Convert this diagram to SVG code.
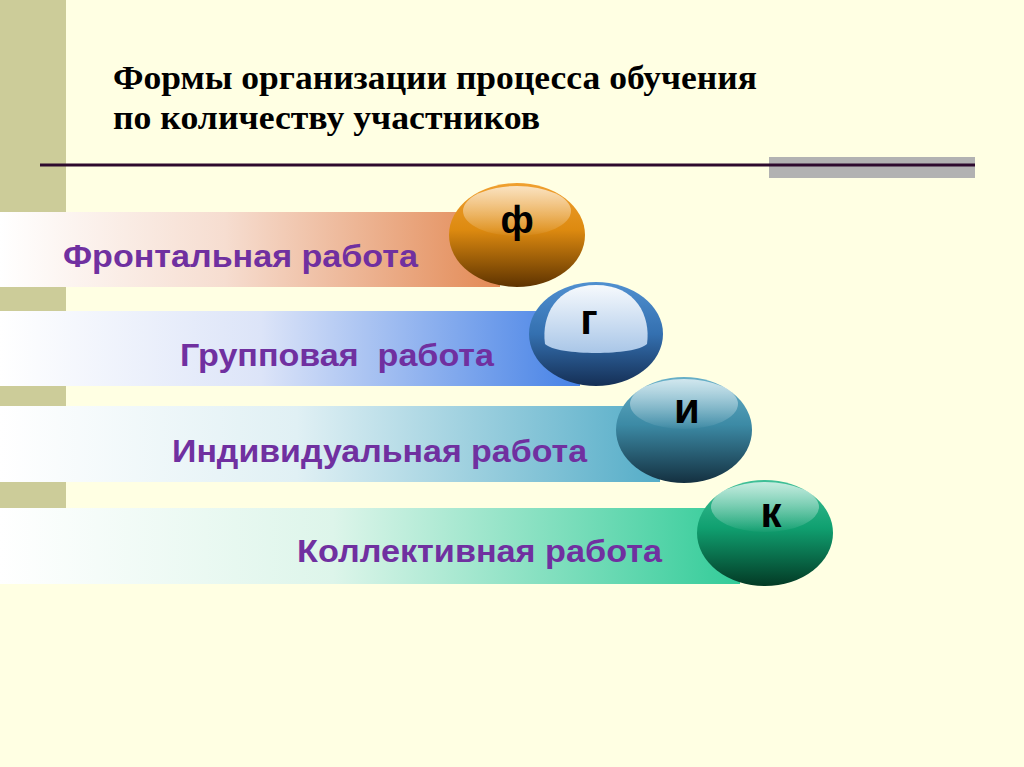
<svg xmlns="http://www.w3.org/2000/svg" width="1024" height="767" viewBox="0 0 1024 767">
<style>
.title{font-family:"Liberation Serif",serif;font-weight:bold;font-size:33px;fill:#000}
.lbl{font-family:"Liberation Sans",Arial,sans-serif;font-weight:bold;font-size:31px;fill:#7030A0}
.let{font-family:"Liberation Sans",Arial,sans-serif;font-weight:bold;font-size:42px;fill:#000;text-anchor:middle}
</style>
<defs>
<linearGradient id="b1" x1="0" y1="0" x2="1" y2="0"><stop offset="0" stop-color="#fff"/><stop offset="0.45" stop-color="#F6DDD0"/><stop offset="1" stop-color="#E38A55"/></linearGradient>
<linearGradient id="b2" x1="0" y1="0" x2="1" y2="0"><stop offset="0" stop-color="#fff"/><stop offset="0.45" stop-color="#DCE4F8"/><stop offset="1" stop-color="#4682E6"/></linearGradient>
<linearGradient id="b3" x1="0" y1="0" x2="1" y2="0"><stop offset="0" stop-color="#fff"/><stop offset="0.45" stop-color="#E0F0F4"/><stop offset="1" stop-color="#55ADC8"/></linearGradient>
<linearGradient id="b4" x1="0" y1="0" x2="1" y2="0"><stop offset="0" stop-color="#fff"/><stop offset="0.45" stop-color="#DDF5EA"/><stop offset="1" stop-color="#33CC99"/></linearGradient>
<linearGradient id="s1" x1="0" y1="0" x2="0" y2="1"><stop offset="0" stop-color="#F0A030"/><stop offset="0.45" stop-color="#DD8A10"/><stop offset="1" stop-color="#5E3300"/></linearGradient>
<linearGradient id="s2" x1="0" y1="0" x2="0" y2="1"><stop offset="0" stop-color="#5090D0"/><stop offset="0.5" stop-color="#3470B0"/><stop offset="1" stop-color="#152F55"/></linearGradient>
<linearGradient id="s3" x1="0" y1="0" x2="0" y2="1"><stop offset="0" stop-color="#68B0C8"/><stop offset="0.45" stop-color="#3C8AA5"/><stop offset="1" stop-color="#143040"/></linearGradient>
<linearGradient id="s4" x1="0" y1="0" x2="0" y2="1"><stop offset="0" stop-color="#40C098"/><stop offset="0.45" stop-color="#10A070"/><stop offset="1" stop-color="#033A25"/></linearGradient>
<linearGradient id="hl" x1="0" y1="0" x2="0" y2="1"><stop offset="0" stop-color="#fff" stop-opacity="0.7"/><stop offset="1" stop-color="#fff" stop-opacity="0.03"/></linearGradient>
<linearGradient id="hl2" x1="0" y1="0" x2="0" y2="1"><stop offset="0" stop-color="#fff" stop-opacity="0.95"/><stop offset="1" stop-color="#B0CCEC" stop-opacity="0.95"/></linearGradient>
</defs>
<rect width="1024" height="767" fill="#FFFFE3"/>
<rect x="0" y="0" width="66" height="508" fill="#CCCC99"/>
<rect x="769" y="157" width="206" height="21" fill="#B2B2B2"/>
<line x1="40" y1="165" x2="975" y2="165" stroke="#2E0A2E" stroke-width="3"/>
<g id="title">
<text class="title" x="113" y="89" textLength="644" lengthAdjust="spacingAndGlyphs">Формы организации процесса обучения</text>
<text class="title" x="113" y="129" textLength="427" lengthAdjust="spacingAndGlyphs">по количеству участников</text>
</g>
<g id="connectors"></g>
<g id="node1">
<rect x="0" y="212" width="500" height="75" fill="url(#b1)"/>
<text class="lbl" x="63" y="267" textLength="355" lengthAdjust="spacingAndGlyphs">Фронтальная работа</text>
<ellipse cx="517" cy="235" rx="68" ry="52" fill="url(#s1)"/>
<ellipse cx="517" cy="211" rx="54" ry="25" fill="url(#hl)"/>
<text class="let" x="517" y="233" style="font-size:38px">ф</text>
</g>
<g id="node2">
<rect x="0" y="311" width="580" height="75" fill="url(#b2)"/>
<text class="lbl" x="180" y="366" textLength="314" lengthAdjust="spacingAndGlyphs" xml:space="preserve">Групповая  работа</text>
<ellipse cx="596" cy="334" rx="67" ry="52" fill="url(#s2)"/>
<path d="M545 344 C541 316 556 285 596 285 C636 285 651 316 647 344 C635 356 557 356 545 344 Z" fill="url(#hl2)"/>
<text class="let" x="589" y="334">г</text>
</g>
<g id="node3">
<rect x="0" y="406" width="660" height="76" fill="url(#b3)"/>
<text class="lbl" x="172" y="462" textLength="415" lengthAdjust="spacingAndGlyphs">Индивидуальная работа</text>
<ellipse cx="684" cy="430" rx="68" ry="53" fill="url(#s3)"/>
<ellipse cx="684" cy="404" rx="54" ry="25" fill="url(#hl)"/>
<text class="let" x="687" y="423">и</text>
</g>
<g id="node4">
<rect x="0" y="508" width="740" height="76" fill="url(#b4)"/>
<text class="lbl" x="297" y="562" textLength="365" lengthAdjust="spacingAndGlyphs">Коллективная работа</text>
<ellipse cx="765" cy="533" rx="68" ry="53" fill="url(#s4)"/>
<ellipse cx="765" cy="507" rx="54" ry="25" fill="url(#hl)"/>
<text class="let" x="771" y="527">к</text>
</g>
</svg>
